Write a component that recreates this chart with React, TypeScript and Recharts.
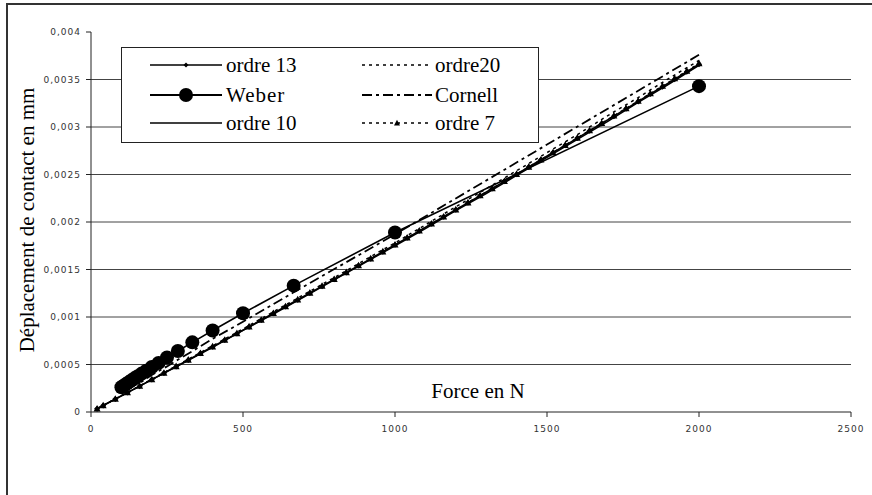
import React from 'react';
import { LineChart, Line, XAxis, YAxis, CartesianGrid, Label } from 'recharts';

// Weber & Cornell are computed at F = 2000 / n
const forceWeber = [2000, 1000, 666.7, 500, 400, 333.3, 285.7, 250, 222.2, 200, 181.8, 166.7, 153.8, 142.9, 133.3, 125, 117.6, 111.1, 105.3, 100];
const weber = [0.00343, 0.00189, 0.00133, 0.00104, 0.000858, 0.000733, 0.000642, 0.000573, 0.000517, 0.000473, 0.000435, 0.000404, 0.000377, 0.000354, 0.000333, 0.000315, 0.000299, 0.000285, 0.000272, 0.00026];
const cornell = [0.00376, 0.00187, 0.00126, 0.00095, 0.00077, 0.00064, 0.00055, 0.00048, 0.00043, 0.00039, 0.00035, 0.00032, 0.0003, 0.00028, 0.00026, 0.00024, 0.00023, 0.00022, 0.00021, 0.0002];

// series with markers (ordre 13, ordre 7)
const forceFine = [20, 40, 80, 120, 160, 200, 240, 280, 320, 360, 400, 440, 480, 520, 560, 600, 640, 680, 720, 760, 800, 840, 880, 920, 960, 1000, 1040, 1080, 1120, 1160, 1200, 1240, 1280, 1320, 1360, 1400, 1440, 1480, 1520, 1560, 1600, 1640, 1680, 1720, 1760, 1800, 1840, 1880, 1920, 1960, 2000];
const ordre13 = [0.000034, 0.000068, 0.000136, 0.000204, 0.000272, 0.000341, 0.00041, 0.000479, 0.000548, 0.000618, 0.000687, 0.000757, 0.000827, 0.000898, 0.000968, 0.001039, 0.00111, 0.001182, 0.001253, 0.001325, 0.001397, 0.001469, 0.001541, 0.001614, 0.001687, 0.00176, 0.001833, 0.001907, 0.001981, 0.002055, 0.002129, 0.002203, 0.002278, 0.002353, 0.002428, 0.002503, 0.002579, 0.002655, 0.002731, 0.002807, 0.002883, 0.00296, 0.003037, 0.003114, 0.003191, 0.003269, 0.003347, 0.003425, 0.003503, 0.003581, 0.00366];
const ordre7 = [0.000035, 0.000069, 0.000137, 0.000205, 0.000273, 0.000342, 0.000411, 0.00048, 0.000549, 0.000619, 0.000688, 0.000758, 0.000828, 0.000899, 0.000969, 0.00104, 0.001111, 0.001183, 0.001254, 0.001326, 0.001398, 0.00147, 0.001542, 0.001615, 0.001688, 0.001761, 0.001834, 0.001908, 0.001982, 0.002056, 0.00213, 0.002204, 0.002279, 0.002354, 0.002429, 0.002504, 0.00258, 0.002656, 0.002732, 0.002809, 0.002886, 0.002963, 0.00304, 0.003118, 0.003196, 0.003274, 0.003353, 0.003431, 0.00351, 0.003589, 0.00367];

// series without markers (ordre 10, ordre20)
const forceCoarse = [20, 100, 200, 300, 400, 500, 600, 700, 800, 900, 1000, 1100, 1200, 1300, 1400, 1500, 1600, 1700, 1800, 1900, 2000];
const ordre10 = [0.000034, 0.00017, 0.00034, 0.00051, 0.00068, 0.00086, 0.00103, 0.00121, 0.00139, 0.00157, 0.00175, 0.00193, 0.00212, 0.0023, 0.00249, 0.00268, 0.00287, 0.00306, 0.00326, 0.00345, 0.00365];
const ordre20 = [0.000035, 0.000172, 0.000345, 0.00052, 0.000697, 0.000875, 0.001055, 0.001235, 0.001415, 0.0016, 0.00178, 0.00197, 0.00216, 0.00235, 0.00254, 0.00273, 0.00292, 0.00312, 0.00331, 0.00351, 0.0037];

const xTicks = [0, 500, 1000, 1500, 2000, 2500];
const yTicks = [0, 0.0005, 0.001, 0.0015, 0.002, 0.0025, 0.003, 0.0035, 0.004];
const gridValues = [0.0005, 0.001, 0.0015, 0.002, 0.0025, 0.003, 0.0035];

const rows = (xs: number[], ys: number[]) => xs.map((x, i) => ({ x, y: ys[i] }));

const serif = '"Liberation Serif", "Times New Roman", serif';
const tickStyle = { fontSize: 9, fill: '#333', fontFamily: '"DejaVu Sans", sans-serif', letterSpacing: 1 };
const titleStyle = { fontFamily: serif, fontSize: 21 };

const Diamond = (p: any) => {
  if (p.cx == null || p.cy == null) return <g key={p.index} />;
  const { cx, cy } = p;
  return <path key={p.index} d={`M${cx},${cy - 3}L${cx + 3},${cy}L${cx},${cy + 3}L${cx - 3},${cy}Z`} fill="#000" />;
};

const Triangle = (p: any) => {
  if (p.cx == null || p.cy == null) return <g key={p.index} />;
  const { cx, cy } = p;
  return <path key={p.index} d={`M${cx},${cy - 3.8}L${cx + 3.5},${cy + 2.8}L${cx - 3.5},${cy + 2.8}Z`} fill="#000" />;
};

const BigDot = (p: any) => {
  if (p.cx == null || p.cy == null) return <g key={p.index} />;
  return <circle key={p.index} cx={p.cx} cy={p.cy} r={7} fill="#000" />;
};

const LegendBox = () => {
  const r = [18, 48, 76];
  return (
    <div style={{ position: 'absolute', left: 121, top: 47, width: 418, height: 96, border: '1px solid #222', background: '#fff', boxSizing: 'border-box' }}>
      <svg width={418} height={96} style={{ position: 'absolute', left: -1, top: -1 }}>
        {/* column 1 */}
        <line x1={29} x2={101} y1={r[0]} y2={r[0]} stroke="#000" strokeWidth={1.5} />
        <path d={`M65,${r[0] - 2.5}L67.5,${r[0]}L65,${r[0] + 2.5}L62.5,${r[0]}Z`} fill="#000" />
        <text x={105} y={r[0] + 7} style={titleStyle}>ordre 13</text>
        <line x1={29} x2={101} y1={r[1]} y2={r[1]} stroke="#000" strokeWidth={2} />
        <circle cx={65} cy={r[1]} r={7} fill="#000" />
        <text x={105} y={r[1] + 7} style={{ ...titleStyle, letterSpacing: 1 }}>Weber</text>
        <line x1={29} x2={101} y1={r[2]} y2={r[2]} stroke="#000" strokeWidth={1.5} />
        <text x={105} y={r[2] + 7} style={titleStyle}>ordre 10</text>
        {/* column 2 */}
        <line x1={241} x2={311} y1={r[0]} y2={r[0]} stroke="#000" strokeWidth={1.5} strokeDasharray="3 4" />
        <text x={314} y={r[0] + 7} style={titleStyle}>ordre20</text>
        <line x1={241} x2={311} y1={r[1]} y2={r[1]} stroke="#000" strokeWidth={2} strokeDasharray="10 4 3 4" />
        <text x={314} y={r[1] + 7} style={titleStyle}>Cornell</text>
        <line x1={241} x2={311} y1={r[2]} y2={r[2]} stroke="#000" strokeWidth={1.5} strokeDasharray="3 4" />
        <path d={`M276,${r[2] - 3.2}L279,${r[2] + 2.4}L273,${r[2] + 2.4}Z`} fill="#000" />
        <text x={314} y={r[2] + 7} style={titleStyle}>ordre 7</text>
      </svg>
    </div>
  );
};

export default function App() {
  return (
    <div style={{ position: 'fixed', left: 0, top: 0, width: 872, height: 495, overflow: 'hidden', background: '#fff' }}>
      <div style={{ position: 'absolute', left: 6, top: 3, width: 900, height: 600, border: '2px solid #333' }} />
      <div style={{ position: 'absolute', left: 0, top: 0 }}>
        <LineChart width={872} height={495} margin={{ top: 32, right: 21, bottom: 53, left: 31 }}>
          <CartesianGrid horizontal vertical={false} horizontalValues={gridValues} stroke="#444" strokeWidth={1} />
          <XAxis
            dataKey="x"
            type="number"
            domain={[0, 2500]}
            ticks={xTicks}
            height={30}
            tickSize={5}
            tickMargin={9}
            stroke="#222"
            tick={tickStyle}
            allowDuplicatedCategory={false}
          >
            <Label
              content={() => (
                <text x={478} y={398} textAnchor="middle" style={titleStyle} fill="#000">
                  Force en N
                </text>
              )}
            />
          </XAxis>
          <YAxis
            type="number"
            domain={[0, 0.004]}
            ticks={yTicks}
            width={60}
            tickSize={5}
            tickMargin={5}
            stroke="#222"
            tick={tickStyle}
            tickFormatter={(v: number) => String(v).replace('.', ',')}
          >
            <Label
              content={() => (
                <text x={27} y={220} transform="rotate(-90 27 220)" textAnchor="middle" dominantBaseline="central" style={titleStyle} fill="#000">
                  Déplacement de contact en mm
                </text>
              )}
            />
          </YAxis>
          <Line data={rows(forceCoarse, ordre10)} dataKey="y" name="ordre 10" stroke="#000" strokeWidth={1.5} dot={false} isAnimationActive={false} />
          <Line data={rows(forceCoarse, ordre20)} dataKey="y" name="ordre20" stroke="#000" strokeWidth={1.5} strokeDasharray="3 4" dot={false} isAnimationActive={false} />
          <Line data={rows(forceWeber, cornell)} dataKey="y" name="Cornell" stroke="#000" strokeWidth={1.8} strokeDasharray="10 4 3 4" dot={false} isAnimationActive={false} />
          <Line data={rows(forceFine, ordre7)} dataKey="y" name="ordre 7" stroke="#000" strokeWidth={1.5} strokeDasharray="3 4" dot={Triangle} isAnimationActive={false} />
          <Line data={rows(forceFine, ordre13)} dataKey="y" name="ordre 13" stroke="#000" strokeWidth={1.6} dot={Diamond} isAnimationActive={false} />
          <Line data={rows(forceWeber, weber)} dataKey="y" name="Weber" stroke="#000" strokeWidth={1.6} dot={BigDot} isAnimationActive={false} />
        </LineChart>
      </div>
      <LegendBox />
    </div>
  );
}
